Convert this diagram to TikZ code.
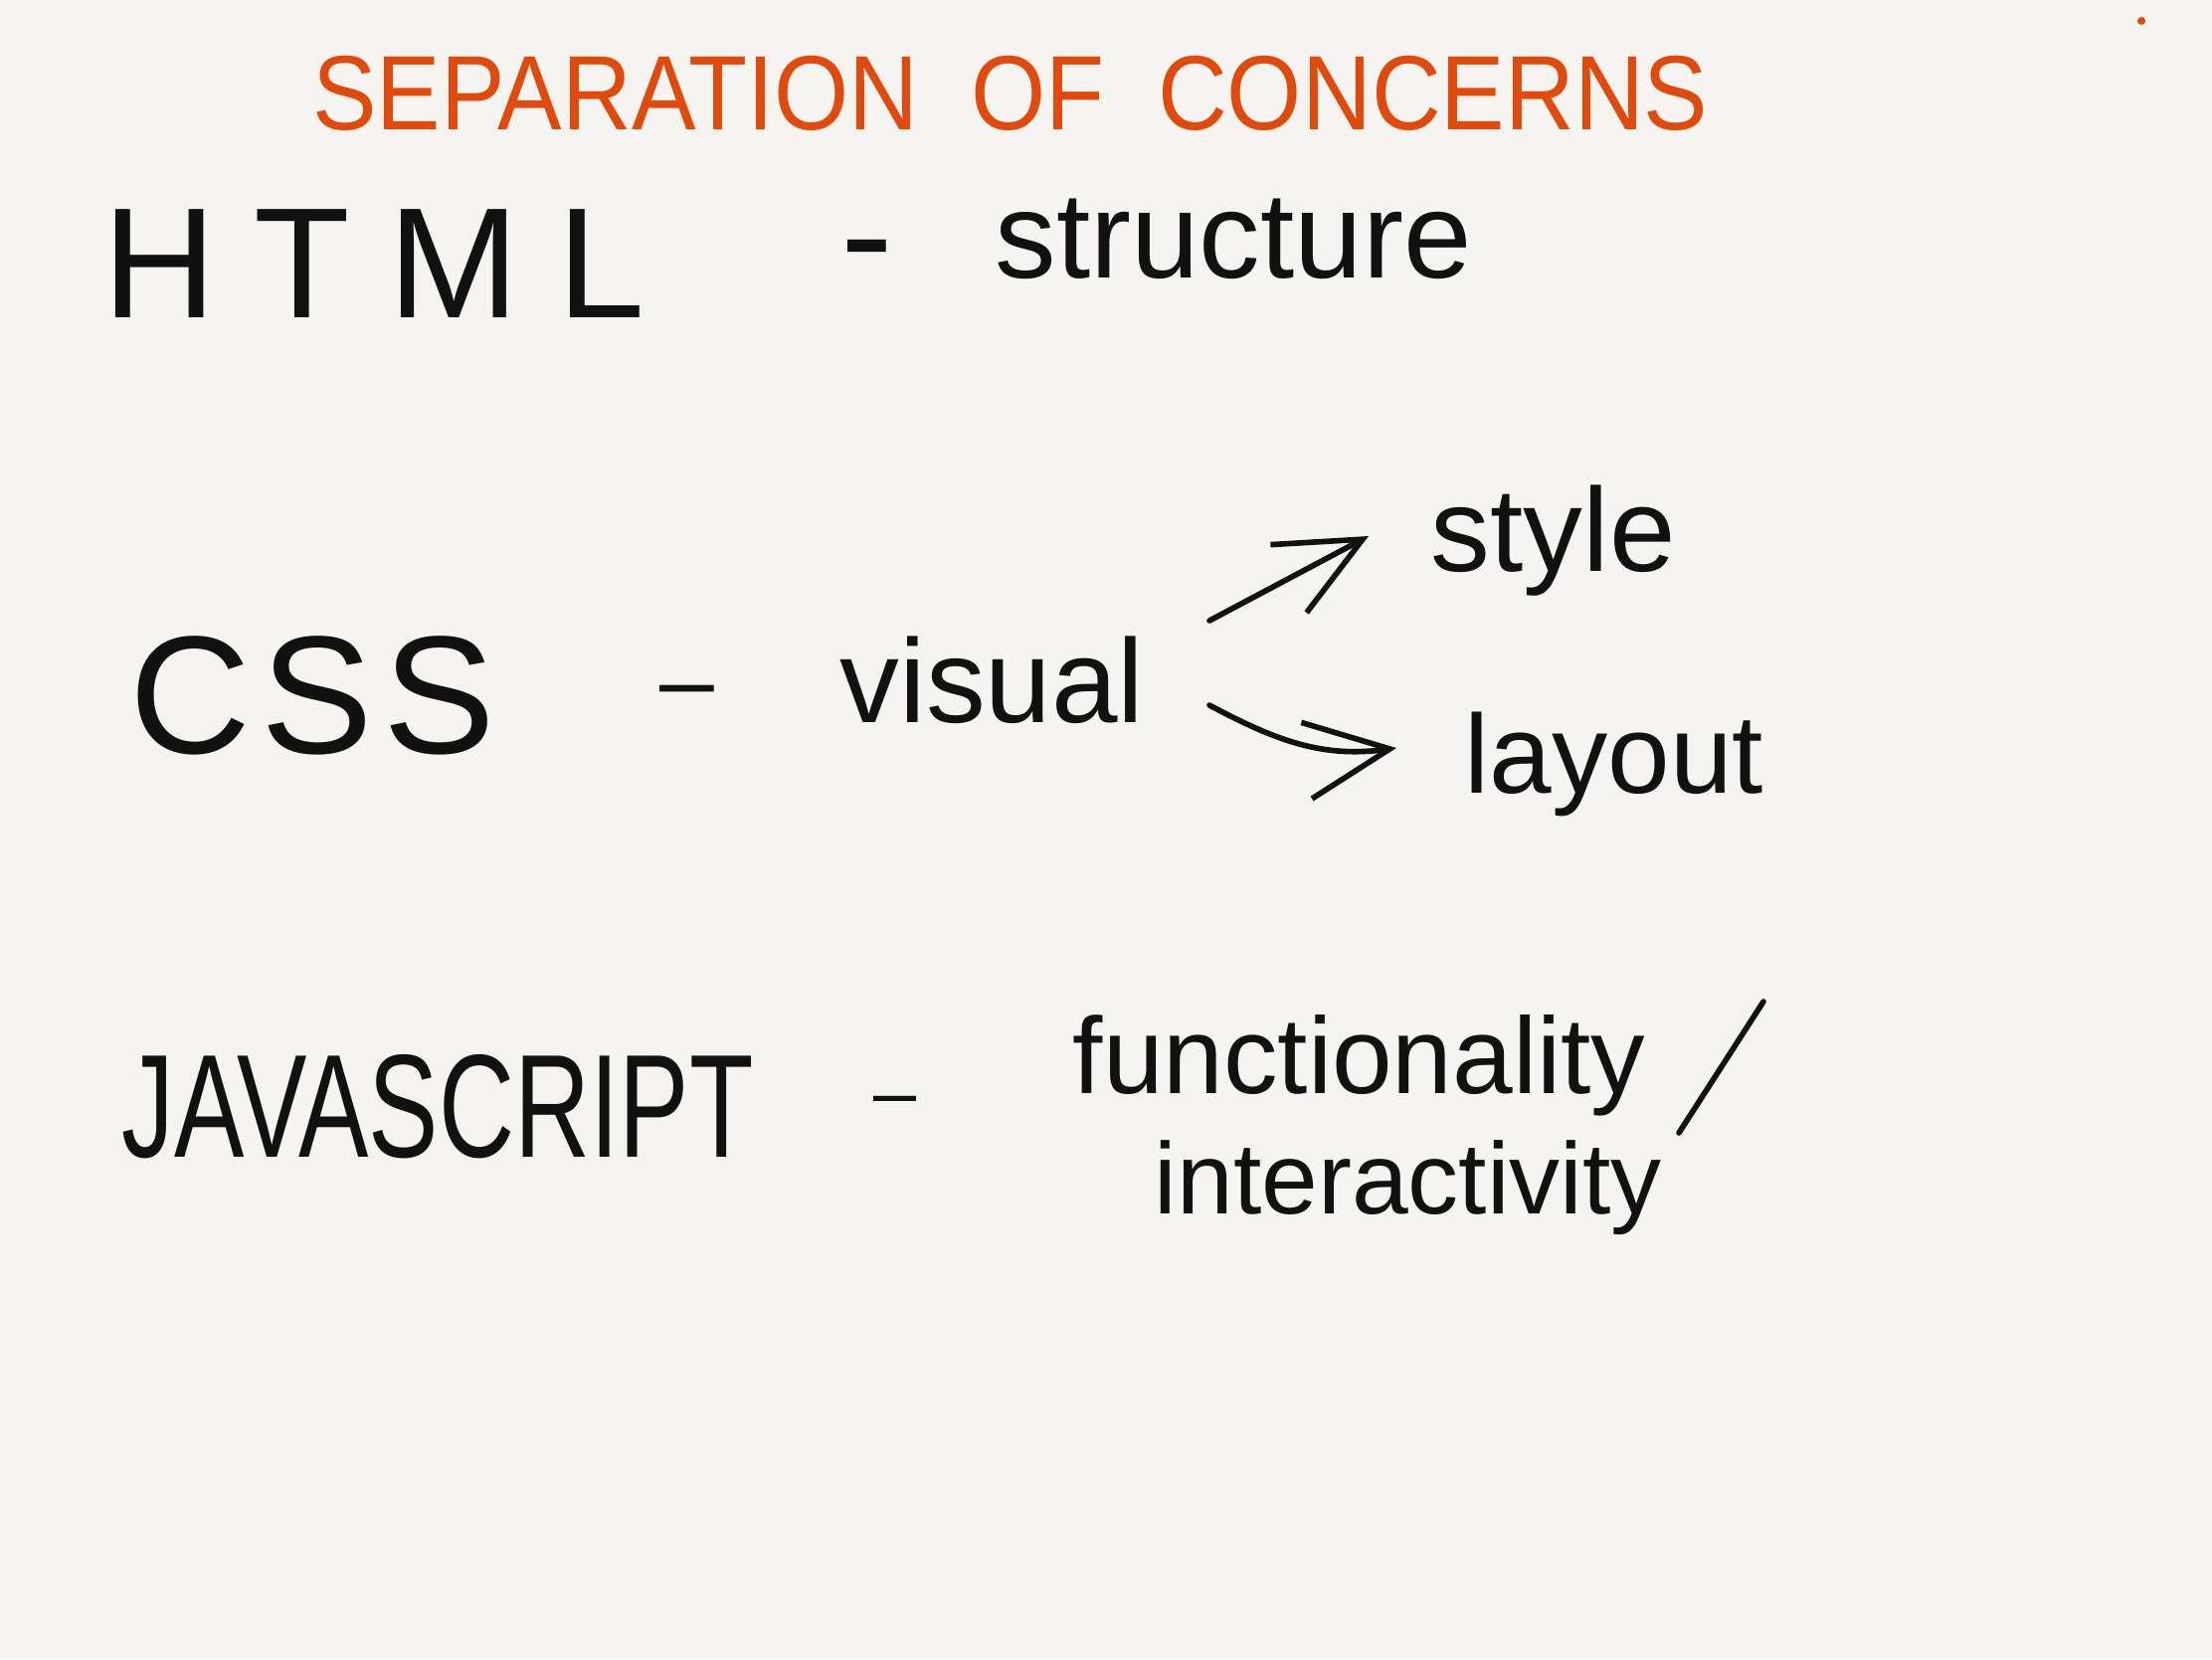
\documentclass[tikz,border=0pt]{standalone}
\usepackage{fontspec}
\setmainfont{Liberation Sans}
\definecolor{PaperWhite}{HTML}{F5F4F0}
\definecolor{InkBlack}{HTML}{111111}
\definecolor{MarkerOrange}{HTML}{E04A0C}
\usetikzlibrary{arrows.meta}
\tikzset{
  handtext/.style={anchor=base west, inner sep=0pt, text=InkBlack},
  dashtext/.style={anchor=base, inner sep=0pt, text=InkBlack},
  titletext/.style={anchor=base, inner sep=0pt, text=MarkerOrange, yscale=1.1, font=\fontsize{27.5}{33}\selectfont},
  inkline/.style={draw=InkBlack, line width=1.6pt, line cap=round},
  inkarrow/.style={-{Straight Barb[length=24pt, width=22pt, line width=1.6pt]}, draw=InkBlack, line width=1.6pt, line cap=round}
}

\begin{document}
\begin{tikzpicture}[x=0.01cm, y=-0.01cm]
\fill[PaperWhite] (0,0) rectangle (2224,1668);
\useasboundingbox (0,0) rectangle (2224,1668);
\fill[MarkerOrange] (2153,21) circle (4);

% title
\node[titletext] (title) at (1016,130) {SEPARATION\hspace{0.55em}OF\hspace{0.55em}CONCERNS};

% HTML row
\node[handtext, font=\fontsize{45}{54}\selectfont\addfontfeatures{LetterSpace=24}] (html) at (103,319) {HTML};
\node[dashtext, font=\fontsize{45}{54}\selectfont] (htmldash) at (872,289) {-};
\node[handtext, font=\fontsize{35}{42}\selectfont] (structure) at (1000,279) {structure};

% CSS row
\node[handtext, font=\fontsize{48}{58}\selectfont\addfontfeatures{LetterSpace=6}] (css) at (130,757) {CSS};
\node[dashtext, font=\fontsize{28}{34}\selectfont] (cssdash) at (691,717) {–};
\node[handtext, font=\fontsize{34}{40}\selectfont] (visual) at (844,726) {visual};
\node[handtext, font=\fontsize{34}{40}\selectfont] (style) at (1438,574) {style};
\node[handtext, font=\fontsize{32}{38}\selectfont] (layout) at (1472,797) {layout};

\coordinate (visualup) at (1216,624);
\coordinate (styletip) at (1376,539);
\coordinate (visualdown) at (1216,709);
\coordinate (layouttip) at (1404,752);
\draw[inkarrow] (visualup) -- (styletip);
\draw[inkarrow] (visualdown) to[out=-28, in=188] (layouttip);

% JavaScript row
\node[handtext, yscale=1.4, font=\fontsize{30}{36}\selectfont] (js) at (122,1163) {JAVASCRIPT};
\node[dashtext, font=\fontsize{22}{26}\selectfont] (jsdash) at (900,1124) {–};
\node[handtext, font=\fontsize{31}{37}\selectfont] (functionality) at (1078,1099) {functionality};
\node[handtext, font=\fontsize{29}{35}\selectfont] (interactivity) at (1160,1220) {interactivity};

\coordinate (slashlow) at (1688,1139);
\coordinate (slashhigh) at (1773,1007);
\draw[inkline] (slashlow) -- (slashhigh);
\end{tikzpicture}
\end{document}
